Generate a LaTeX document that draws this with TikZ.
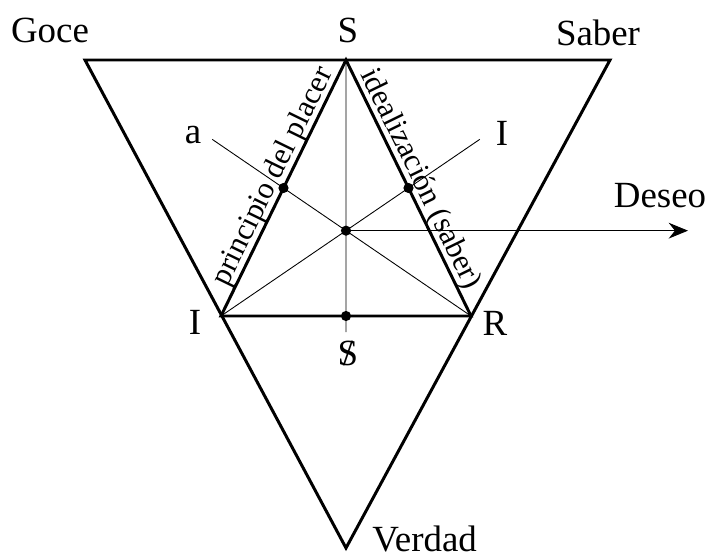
\documentclass[tikz,border=0pt]{standalone}
\usepackage{fontspec}
\setmainfont{Liberation Serif}
\usepackage{tikz}
\usetikzlibrary{arrows.meta, positioning, calc}

\begin{document}
\begin{tikzpicture}[x=0.02cm, y=-0.02cm,
    thickline/.style={line width=1.7pt, line join=miter},
    thinline/.style={line width=0.5pt},
    dot/.style={circle, fill=black, inner sep=0pt, minimum size=5.8pt},
    lbl/.style={font=\fontsize{21}{24}\selectfont},
    sidelbl/.style={font=\fontsize{17.5}{20}\selectfont, sloped, anchor=south,
                    inner sep=0pt, outer sep=0pt}]
  \useasboundingbox (0,0) rectangle (707,558);
  % outer triangle corners
  \coordinate (goce) at (85,60);
  \coordinate (saber) at (610,60);
  \coordinate (verdad) at (346,548);
  % inner triangle
  \coordinate (S) at (346,60);
  \coordinate (I) at (221,316);
  \coordinate (R) at (471,316);
  \coordinate (mSI) at ($(S)!0.5!(I)$);
  \coordinate (mSR) at ($(S)!0.5!(R)$);
  \coordinate (mIR) at ($(I)!0.5!(R)$);
  \coordinate (ctr) at ($(S)!2/3!(mIR)$);
  \coordinate (aend) at ($(R)!1.38!(mSI)$);
  \coordinate (iend) at ($(I)!1.38!(mSR)$);
  \coordinate (send) at ($(mIR)+(0,16)$);
  \coordinate (tip) at (688,0);
  % medians
  \draw[thinline] (aend) -- (R);
  \draw[thinline] (iend) -- (I);
  \draw[thinline] (S) -- (send);
  \draw[thinline, -{Stealth[length=11pt, width=9pt]}] (ctr) -- (ctr -| tip);
  % triangles
  \draw[thickline] (goce) -- (saber) -- (verdad) -- cycle;
  \draw[thickline] (I) -- node[sidelbl, pos=0.52] {principio del placer} (S)
        -- node[sidelbl, pos=0.49] {idealización (saber)} (R) -- cycle;
  \foreach \p in {mSI, mSR, mIR, ctr}
    \node[dot] (d\p) at (\p) {};
  % labels
  \node[lbl] (tgoce) at (50,30) {Goce};
  \node[lbl] (tS) at (348,30) {S};
  \node[lbl] (tsaber) at (598,33) {Saber};
  \node[lbl] (ta) at (193,135) {a};
  \node[lbl] (tIup) at (502,133) {I};
  \node[lbl] (tdeseo) at (660,196) {Deseo};
  \node[lbl] (tI) at (195,322) {I};
  \node[lbl] (tR) at (495,323) {R};
  \node[lbl] (tbarS) at (348,353) {\ooalign{S\cr\hidewidth/\hidewidth}};
  \node[lbl, anchor=base west, inner sep=0pt] (tverdad) at (372,551) {Verdad};
\end{tikzpicture}
\end{document}
